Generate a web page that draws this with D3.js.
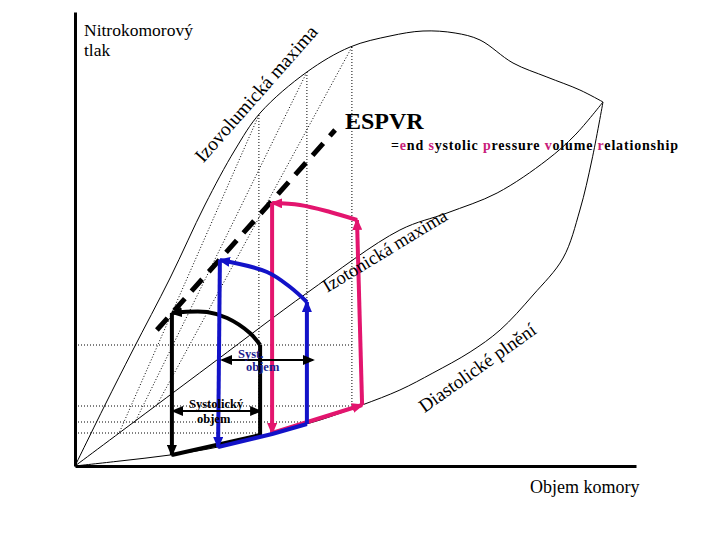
<!DOCTYPE html>
<html><head><meta charset="utf-8">
<script src="https://cdn.jsdelivr.net/npm/d3@7"></script>
<style>body{margin:0;background:#fff} svg{display:block}</style>
</head><body>
<svg id="c" width="720" height="540"></svg>
<script>
// ---- data (volume units, pressure units) ----
const isovolumicMax = [[0,0],[10,30.5],[19.3,58],[31.7,94],[43.3,130.5],[53.3,158],[61.7,176.5],[77.3,197],[91.7,209.5],[105,215],[116,217.5],[126.7,216.5],[135,213],[146,201.5],[157.3,194.5],[168.3,188],[176,182]];
const isotonicMax = [[0,0],[25,28],[47.3,53],[77.3,86.5],[108.3,118],[124,126.5],[140.7,136.5],[157.3,153],[166.7,165.5],[176,182]];
const diastolicFill = [[0,0],[15,2.5],[31.7,5.5],[47.7,9.5],[65.7,16.5],[81.7,23],[95.7,30.5],[108.3,38],[119.3,46.5],[131.7,57],[141.7,68],[152.7,85.5],[162.7,104],[168.3,128],[172.3,153],[176,182]];
const afterloadMaxLines = [
  [[61.3,175.5],[14.7,16.5]],
  [[77.3,197],[19.7,21]],
  [[92.3,209.5],[27.3,30.5]]
];
const verticalGuides = [[61.3,175.5,16.5],[77.3,197,21],[92.3,209.5,30.5]]; // vol, pTop, pBottom
const horizontalGuides = [[60.5,92.3],[30,92.3],[22,77.3],[16.5,61.7]];   // p, volEnd
const espvr = [[27.3,68],[86.7,168]];
// loops: filling, contraction, ejection (curve), relaxation
const blackLoop = {
  filling: [[32.3,5.5],[61.7,15.5]],
  contraction: [[61.7,15.5],[61.7,60.5]],
  ejection: [[61.7,60.5],[58.3,66.5],[50.7,74],[44,77],[32.3,76.5]],
  relaxation: [[32.3,76.5],[32.3,5.5]]
};
const blueLoop = {
  filling: [[47.7,9.5],[65.7,16],[77.3,21]],
  contraction: [[77.3,21],[77.3,82]],
  ejection: [[77.3,82],[71.7,89.5],[64,97],[48.3,103]],
  relaxation: [[48.3,103],[47.7,9.5]]
};
const pinkLoop = {
  filling: [[65.7,16.5],[95.7,30.5]],
  contraction: [[95.7,30.5],[94,123]],
  ejection: [[94,123],[85,127],[75,130.5],[65.7,131.5]],
  relaxation: [[65.7,131.5],[65.7,16.5]]
};
const strokeVolumeArrows = [
  {from:49, to:79.3, p:53, label:["Syst.","objem"], color:"#1a1a8c"},
  {from:32.7, to:61.7, p:27.5, label:["Systolický","objem"], color:"#000"}
];
const espvrWords = [["=",0],["e",1],["nd ",0],["s",1],["ystolic ",0],["p",1],["ressure ",0],["v",1],["olume ",0],["r",1],["elationship",0]];

// ---- scales ----
const x = d3.scaleLinear().domain([0,187]).range([75,636]);
const y = d3.scaleLinear().domain([0,227]).range([466,12]);
const svg = d3.select("#c");
const serif = "'Liberation Serif','Times New Roman',serif";

// markers
const defs = svg.append("defs");
function marker(id,color,w,h){
  defs.append("marker").attr("id",id).attr("markerUnits","userSpaceOnUse")
    .attr("markerWidth",w).attr("markerHeight",h).attr("refX",w-2).attr("refY",h/2)
    .attr("orient","auto-start-reverse")
    .append("path").attr("d",`M0,0L${w},${h/2}L0,${h}Z`).attr("fill",color);
}
marker("mBlack","#000",12,10);
marker("mBlue","#1212c8",12,10);
marker("mPink","#e3156e",12,10);
marker("mSmall","#000",12,10);

const line = d3.line().x(d=>x(d[0])).y(d=>y(d[1]));
const curve = d3.line().x(d=>x(d[0])).y(d=>y(d[1])).curve(d3.curveCatmullRom.alpha(0.5));

// axes
svg.append("g").attr("transform",`translate(${x(0)},0)`)
  .call(d3.axisLeft(y).tickValues([]).tickSizeOuter(0))
  .select(".domain").attr("stroke-width",3);
svg.append("g").attr("transform",`translate(0,${y(0)})`)
  .call(d3.axisBottom(x).tickValues([]).tickSizeOuter(0))
  .select(".domain").attr("stroke-width",3);

// dotted guides
const dot = {stroke:"#000","stroke-width":1,"stroke-dasharray":"1,2",fill:"none"};
function applyAttrs(sel,a){for(const k in a) sel.attr(k,a[k]); return sel;}
verticalGuides.forEach(g=>applyAttrs(svg.append("line").attr("x1",x(g[0])).attr("x2",x(g[0])).attr("y1",y(g[1])).attr("y2",y(g[2])),dot));
horizontalGuides.forEach(g=>applyAttrs(svg.append("line").attr("x1",x(0)).attr("x2",x(g[1])).attr("y1",y(g[0])).attr("y2",y(g[0])),dot));
afterloadMaxLines.forEach(l=>applyAttrs(svg.append("path").attr("d",line(l)),dot));

// thin solid curves
[isovolumicMax,isotonicMax,diastolicFill].forEach(c=>
  svg.append("path").attr("d",curve(c)).attr("fill","none").attr("stroke","#000").attr("stroke-width",1));

// ESPVR dashed
svg.append("path").attr("d",line(espvr)).attr("stroke","#000").attr("stroke-width",5)
  .attr("stroke-dasharray","16,10").attr("fill","none");

// loops
function drawLoop(L,color,m,ends){
  const segs=["filling","contraction","ejection","relaxation"];
  segs.forEach(s=>{
    const p=svg.append("path").attr("d",(s==="ejection"?curve:line)(L[s]))
      .attr("fill","none").attr("stroke",color).attr("stroke-width",4).attr("stroke-linejoin","round");
    if(ends.includes(s)) p.attr("marker-end",`url(#${m})`);
  });
}
drawLoop(blackLoop,"#000","mBlack",["ejection","relaxation"]);
drawLoop(pinkLoop,"#e3156e","mPink",["filling","contraction","ejection","relaxation"]);
drawLoop(blueLoop,"#1212c8","mBlue",["contraction","ejection","relaxation"]);

// stroke volume arrows
strokeVolumeArrows.forEach(a=>{
  svg.append("line").attr("x1",x(a.from)).attr("x2",x(a.to)).attr("y1",y(a.p)).attr("y2",y(a.p))
    .attr("stroke","#000").attr("stroke-width",2)
    .attr("marker-start","url(#mSmall)").attr("marker-end","url(#mSmall)");
});
svg.append("text").attr("x",238).attr("y",358).text(strokeVolumeArrows[0].label[0])
  .attr("font-family",serif).attr("font-weight","bold").attr("font-size",12.5).attr("fill",strokeVolumeArrows[0].color);
svg.append("text").attr("x",246).attr("y",371).text(strokeVolumeArrows[0].label[1])
  .attr("font-family",serif).attr("font-weight","bold").attr("font-size",12.5).attr("fill",strokeVolumeArrows[0].color);
svg.append("text").attr("x",189).attr("y",408).text(strokeVolumeArrows[1].label[0])
  .attr("font-family",serif).attr("font-weight","bold").attr("font-size",12.5).attr("fill","#000");
svg.append("text").attr("x",197).attr("y",423).text(strokeVolumeArrows[1].label[1])
  .attr("font-family",serif).attr("font-weight","bold").attr("font-size",12.5).attr("fill","#000");

// labels
function txt(t,xx,yy,size,opts={}){
  const e=svg.append("text").attr("x",xx).attr("y",yy).text(t).attr("font-family",serif)
    .attr("font-size",size).attr("fill",opts.fill||"#000");
  if(opts.bold) e.attr("font-weight","bold");
  if(opts.rot!==undefined) e.attr("transform",`rotate(${opts.rot},${xx},${yy})`).attr("text-anchor","middle");
  return e;
}
txt("Nitrokomorový",84,36,17.5);
txt("tlak",84,56,17.5);
txt("Izovolumická maxima",261,98,19.5,{rot:-48.6});
txt("ESPVR",345,129,24,{bold:true});
txt("Izotonická maxima",388,256,18.5,{rot:-31.2});
txt("Diastolické plnění",481,373,19,{rot:-35.4});
txt("Objem komory",530,493,18);

const eq=svg.append("text").attr("x",391).attr("y",150).attr("font-family",serif)
  .attr("font-weight","bold").attr("font-size",14).attr("textLength",287).attr("lengthAdjust","spacing");
espvrWords.forEach(w=>eq.append("tspan").text(w[0]).attr("fill",w[1]?"#c8207a":"#000"));
</script>
</body></html>
